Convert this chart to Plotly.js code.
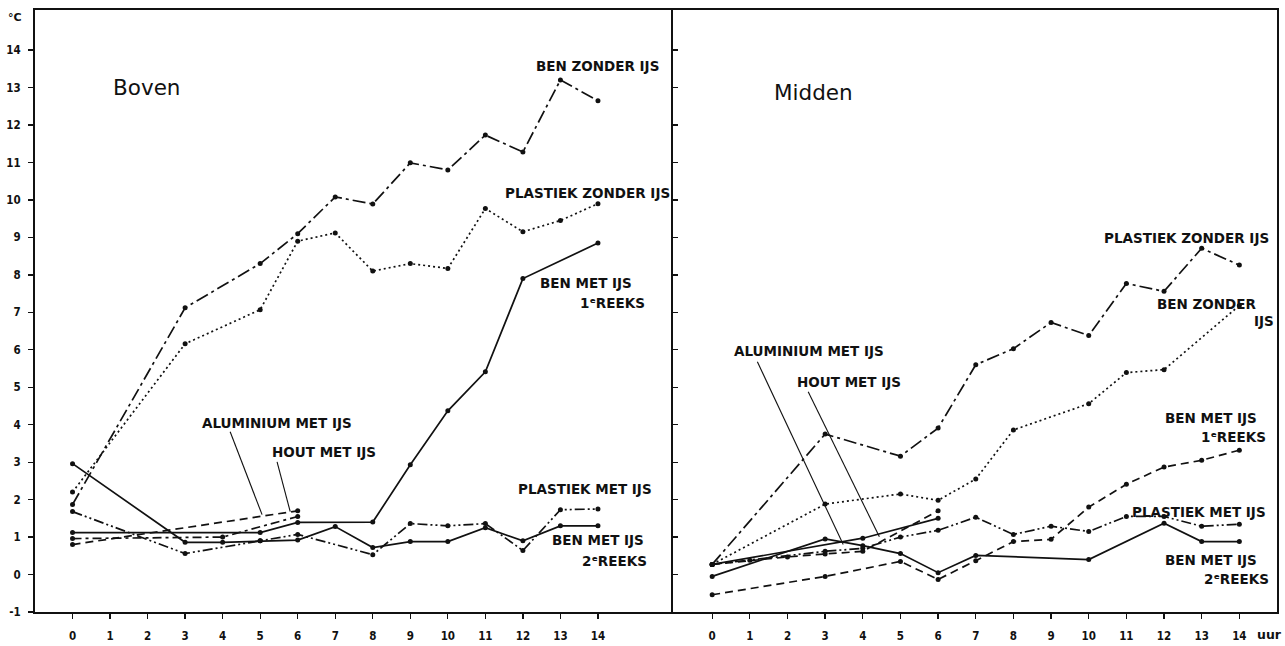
<!DOCTYPE html>
<html>
<head>
<meta charset="utf-8">
<script src="https://cdn.plot.ly/plotly-3.0.1.min.js"></script>
<style>html,body{margin:0;padding:0;background:#fff;}#chart{width:1285px;height:646px;}</style>
</head>
<body>
<div id="chart"></div>
<script>
// ---------- data: Boven (left panel) ----------
const bovenBenZonderX = [0, 3, 5, 6, 7, 8, 9, 10, 11, 12, 13, 14];
const bovenBenZonderY = [1.87, 7.12, 8.3, 9.1, 10.08, 9.89, 10.99, 10.8, 11.73, 11.28, 13.2, 12.65];
const bovenPlastiekZonderX = [0, 3, 5, 6, 7, 8, 9, 10, 11, 12, 13, 14];
const bovenPlastiekZonderY = [2.2, 6.16, 7.07, 8.9, 9.12, 8.1, 8.3, 8.17, 9.77, 9.15, 9.45, 9.9];
const bovenBenMet1X = [0, 5, 6, 8, 9, 10, 11, 12, 14];
const bovenBenMet1Y = [1.12, 1.12, 1.39, 1.4, 2.93, 4.37, 5.41, 7.9, 8.85];
const bovenBenMet2X = [0, 3, 4, 5, 6, 7, 8, 9, 10, 11, 12, 13, 14];
const bovenBenMet2Y = [2.96, 0.86, 0.86, 0.9, 0.92, 1.28, 0.72, 0.88, 0.88, 1.25, 0.9, 1.3, 1.3];
const bovenPlastiekMetX = [0, 3, 5, 6, 8, 9, 10, 11, 12, 13, 14];
const bovenPlastiekMetY = [1.68, 0.56, 0.9, 1.07, 0.53, 1.36, 1.3, 1.36, 0.64, 1.73, 1.75];
const bovenAluminiumX = [0, 6];
const bovenAluminiumY = [0.8, 1.7];
const bovenHoutX = [0, 4, 6];
const bovenHoutY = [0.96, 1.0, 1.55];

// ---------- data: Midden (right panel) ----------
const middenPlastiekZonderX = [0, 3, 5, 6, 7, 8, 9, 10, 11, 12, 13, 14];
const middenPlastiekZonderY = [0.27, 3.75, 3.16, 3.91, 5.6, 6.03, 6.73, 6.38, 7.77, 7.56, 8.71, 8.26];
const middenBenZonderX = [0, 3, 5, 6, 7, 8, 10, 11, 12, 14];
const middenBenZonderY = [0.27, 1.88, 2.15, 1.98, 2.55, 3.86, 4.56, 5.39, 5.47, 7.18];
const middenBenMet1X = [0, 3, 5, 6, 7, 8, 9, 10, 11, 12, 13, 14];
const middenBenMet1Y = [-0.54, -0.05, 0.35, -0.13, 0.37, 0.88, 0.94, 1.8, 2.41, 2.87, 3.05, 3.32];
const middenBenMet2X = [0, 3, 4, 5, 6, 7, 10, 12, 13, 14];
const middenBenMet2Y = [-0.05, 0.95, 0.77, 0.56, 0.05, 0.51, 0.4, 1.37, 0.88, 0.88];
const middenPlastiekMetX = [0, 3, 4, 5, 6, 7, 8, 9, 10, 11, 12, 13, 14];
const middenPlastiekMetY = [0.27, 0.62, 0.7, 1.0, 1.18, 1.53, 1.07, 1.29, 1.15, 1.55, 1.55, 1.29, 1.34];
const middenAluminiumX = [0, 1, 2, 3, 4, 6];
const middenAluminiumY = [0.27, 0.38, 0.47, 0.55, 0.62, 1.7];
const middenHoutX = [0, 4, 6];
const middenHoutY = [0.27, 0.97, 1.5];

const hourTicks = [0,1,2,3,4,5,6,7,8,9,10,11,12,13,14];
const tempTicks = [-1,0,1,2,3,4,5,6,7,8,9,10,11,12,13,14];

// ---------- styles ----------
const DASH = {
  longDashDot: '13px,4px,3px,4px',
  dotted: '2px,3px',
  solid: 'solid',
  dashDotDot: '10px,3px,2px,3px,2px,3px',
  dashed: '8px,5px',
  dashDot: '9px,4px,3px,4px'
};
function tr(x, y, dash, axis) {
  return {
    x: x, y: y, type: 'scatter', mode: 'lines+markers',
    xaxis: axis === 2 ? 'x2' : 'x', yaxis: axis === 2 ? 'y2' : 'y',
    line: {color: '#111', width: 1.7, dash: dash},
    marker: {color: '#111', size: 5},
    showlegend: false, hoverinfo: 'skip'
  };
}
const data = [
  tr(bovenBenZonderX, bovenBenZonderY, DASH.longDashDot, 1),
  tr(bovenPlastiekZonderX, bovenPlastiekZonderY, DASH.dotted, 1),
  tr(bovenBenMet1X, bovenBenMet1Y, DASH.solid, 1),
  tr(bovenBenMet2X, bovenBenMet2Y, DASH.solid, 1),
  tr(bovenPlastiekMetX, bovenPlastiekMetY, DASH.dashDotDot, 1),
  tr(bovenAluminiumX, bovenAluminiumY, DASH.dashed, 1),
  tr(bovenHoutX, bovenHoutY, DASH.dashDot, 1),
  tr(middenPlastiekZonderX, middenPlastiekZonderY, DASH.longDashDot, 2),
  tr(middenBenZonderX, middenBenZonderY, DASH.dotted, 2),
  tr(middenBenMet1X, middenBenMet1Y, DASH.dashed, 2),
  tr(middenBenMet2X, middenBenMet2Y, DASH.solid, 2),
  tr(middenPlastiekMetX, middenPlastiekMetY, DASH.dashDotDot, 2),
  tr(middenAluminiumX, middenAluminiumY, DASH.dashed, 2),
  tr(middenHoutX, middenHoutY, DASH.solid, 2)
];

const FONT = 'DejaVu Sans, sans-serif';
const tickFont = {family: 'DejaVu Sans Condensed, DejaVu Sans, sans-serif', size: 11.5, color: '#111', weight: 'bold'};
const yRange = [-1, 15.07];

function lab(text, x, y, axis, anchor, size, weight) {
  return {
    text: text, x: x, y: y, xref: axis === 2 ? 'x2' : 'x', yref: axis === 2 ? 'y2' : 'y',
    xanchor: anchor || 'right', yanchor: 'middle', showarrow: false,
    font: {family: FONT, size: size || 13.5, color: '#111', weight: weight || 'bold'}
  };
}
const annotations = [
  lab('Boven', 1.97, 13.01, 1, 'center', 21.5, 'normal'),
  lab('BEN ZONDER IJS', 15.69, 13.57, 1),
  lab('PLASTIEK ZONDER IJS', 15.96, 10.19, 1),
  lab('BEN MET IJS', 14.97, 7.79, 1),
  lab('1ᵉREEKS', 15.32, 7.25, 1),
  lab('ALUMINIUM MET IJS', 3.4, 4.05, 1, 'left'),
  lab('HOUT MET IJS', 5.27, 3.28, 1, 'left'),
  lab('PLASTIEK MET IJS', 15.5, 2.29, 1),
  lab('BEN MET IJS', 15.29, 0.93, 1),
  lab('2ᵉREEKS', 15.37, 0.37, 1),

  lab('Midden', 2.69, 12.88, 2, 'center', 21.5, 'normal'),
  lab('PLASTIEK ZONDER IJS', 14.84, 8.99, 2),
  lab('BEN ZONDER', 14.52, 7.23, 2),
  lab('IJS', 14.97, 6.77, 2),
  lab('ALUMINIUM MET IJS', 0.53, 5.97, 2, 'left'),
  lab('HOUT MET IJS', 2.21, 5.15, 2, 'left'),
  lab('BEN MET IJS', 14.52, 4.19, 2),
  lab('1ᵉREEKS', 14.76, 3.68, 2),
  lab('PLASTIEK MET IJS', 14.76, 1.68, 2),
  lab('BEN MET IJS', 14.52, 0.4, 2),
  lab('2ᵉREEKS', 14.84, -0.13, 2),
  {text: 'uur', x: 14.81, xref: 'x2', y: -0.037, yref: 'paper', xanchor: 'center', yanchor: 'middle',
   showarrow: false, font: {family: FONT, size: 12.5, color: '#111', weight: 'bold'}},
  {text: '°C', x: -0.016, xref: 'paper', y: 0.987, yref: 'paper', xanchor: 'center', yanchor: 'middle',
   showarrow: false, font: {family: FONT, size: 11, color: '#111', weight: 'bold'}}
];

function pointer(x0, y0, x1, y1, axis) {
  return {type: 'line', xref: axis === 2 ? 'x2' : 'x', yref: axis === 2 ? 'y2' : 'y',
          x0: x0, y0: y0, x1: x1, y1: y1, line: {color: '#111', width: 1.1}};
}
const shapes = [
  pointer(4.2, 3.81, 5.05, 1.6, 1),
  pointer(5.45, 3.01, 5.8, 1.68, 1),
  pointer(1.2, 5.68, 3.48, 0.8, 2),
  pointer(2.55, 4.88, 4.44, 1.01, 2)
];

const axisCommon = {
  showgrid: false, zeroline: false, showline: true, linecolor: '#111', linewidth: 2,
  mirror: true, ticks: 'outside', ticklen: 5, tickwidth: 1.3, tickcolor: '#111',
  tickfont: tickFont, fixedrange: true
};

const layout = {
  width: 1285, height: 646,
  margin: {l: 35, r: 8, t: 10, b: 34},
  paper_bgcolor: '#fff', plot_bgcolor: '#fff',
  showlegend: false,
  xaxis: Object.assign({}, axisCommon, {domain: [0, 0.5137], range: [-1, 16], anchor: 'y',
    tickvals: hourTicks, ticktext: hourTicks.map(String), ticklabelstandoff: 7}),
  yaxis: Object.assign({}, axisCommon, {domain: [0, 1], range: yRange, anchor: 'x', mirror: false,
    tickvals: tempTicks, ticktext: tempTicks.map(String), ticklabelstandoff: 5}),
  xaxis2: Object.assign({}, axisCommon, {domain: [0.5137, 1], range: [-1.04, 15.0], anchor: 'y2',
    tickvals: hourTicks, ticktext: hourTicks.map(String), ticklabelstandoff: 7}),
  yaxis2: Object.assign({}, axisCommon, {domain: [0, 1], range: yRange, anchor: 'x2',
    ticks: 'inside', tickvals: tempTicks, showticklabels: false, mirror: true}),
  annotations: annotations,
  shapes: shapes
};

Plotly.newPlot('chart', data, layout, {displayModeBar: false, staticPlot: true});
</script>
</body>
</html>
